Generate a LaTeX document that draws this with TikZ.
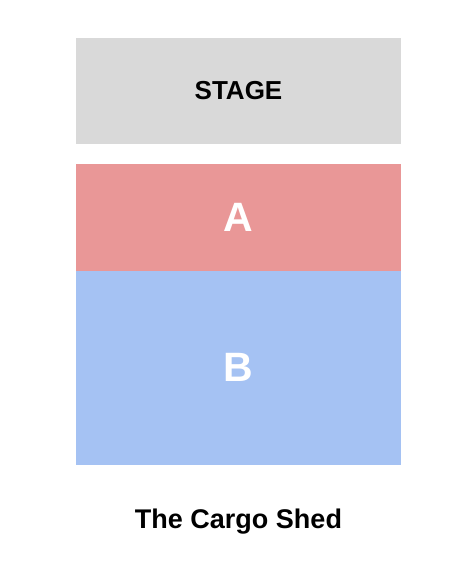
\documentclass[tikz,border=0pt]{standalone}
\usepackage{fontspec}
\setmainfont{Liberation Sans}
\usepackage{tikz}
\usetikzlibrary{positioning}

\definecolor{stagegray}{HTML}{D9D9D9}
\definecolor{zonered}{HTML}{E99797}
\definecolor{zoneblue}{HTML}{A5C2F3}

\begin{document}
\begin{tikzpicture}[
  x=1pt,
  y=1pt,
  block/.style={inner sep=0pt, outer sep=0pt, minimum width=325pt, font=\bfseries},
  stagebox/.style={block, fill=stagegray, minimum height=106pt, font=\bfseries\fontsize{26}{30}\selectfont},
  zonebox/.style={block, text=white, font=\bfseries\fontsize{41}{46}\selectfont}
  ]
    % page frame
    \useasboundingbox (0,0) rectangle (475,561);

    % stage
    \node[stagebox] (stage) at (238.5,470) {STAGE};

    % zones A and B
    \node[zonebox, fill=zonered, minimum height=107pt, anchor=north] (zoneA) at (238.5,397) {A};
    \node[zonebox, fill=zoneblue, minimum height=194.4pt, below=-0.4pt of zoneA] (zoneB) {B};

%venue name
\node[font=\bfseries\fontsize{27}{32}\selectfont] (venue) at (238.5,39) {The Cargo Shed};

\end{tikzpicture}
\end{document}
